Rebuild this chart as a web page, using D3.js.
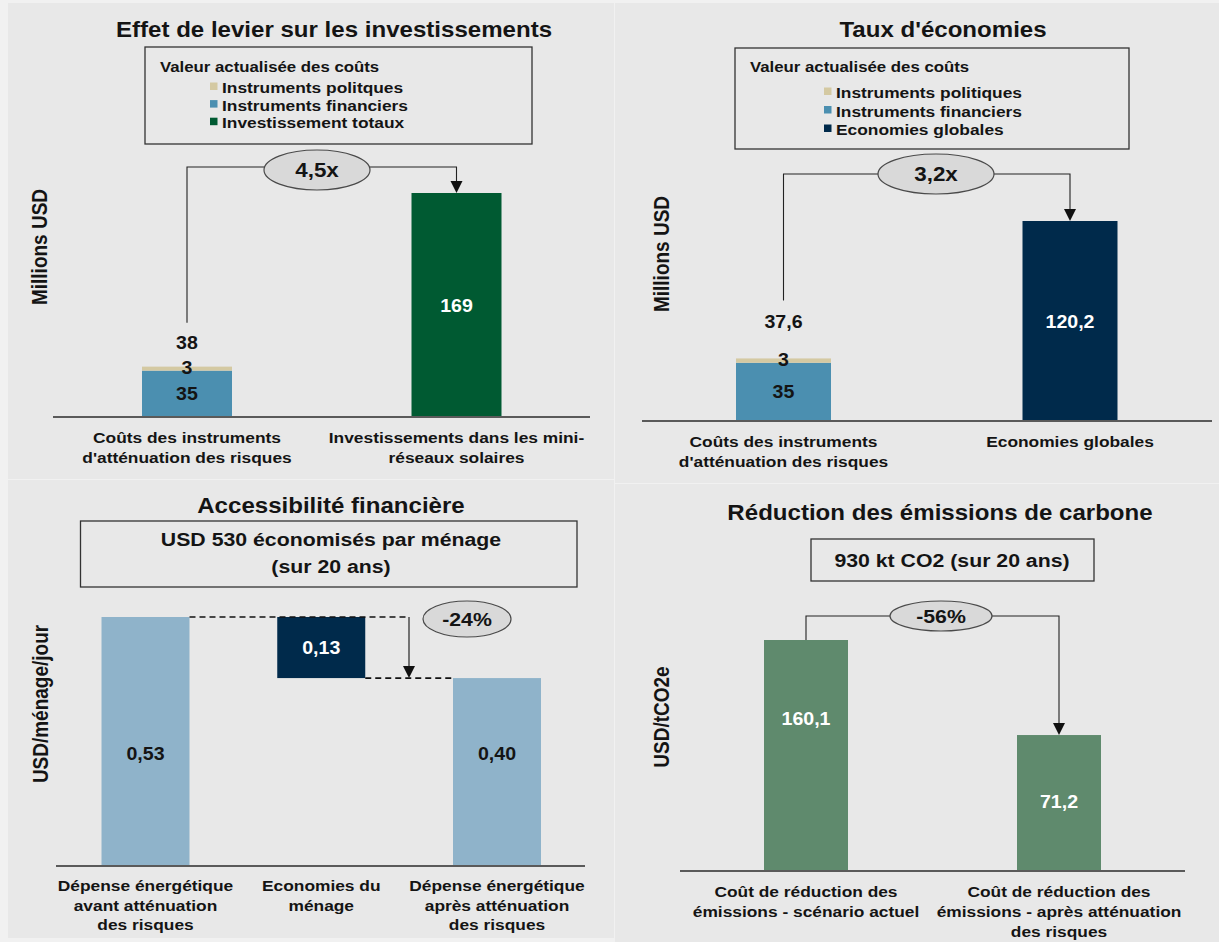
<!DOCTYPE html>
<html><head><meta charset="utf-8">
<script src="https://cdn.jsdelivr.net/npm/d3@7"></script>
<style>html,body{margin:0;padding:0;background:#f1f1f1;} svg{display:block;}</style>
</head><body><svg id="c" width="1219" height="942"></svg>
<script>
// ---------------- DATA ----------------
// Panel 1 : Effet de levier sur les investissements
const levierTitle = "Effet de levier sur les investissements";
const levierCategories = [["Coûts des instruments", "d'atténuation des risques"], ["Investissements dans les mini-", "réseaux solaires"]];
const levierFinanciers = [35, 0];
const levierPolitiques = [3, 0];
const levierInvestissement = [0, 169];
const levierLegend = ["Instruments politques", "Instruments financiers", "Investissement totaux"];
const levierMultiple = "4,5x";

// Panel 2 : Taux d'économies
const tauxTitle = "Taux d'économies";
const tauxCategories = [["Coûts des instruments", "d'atténuation des risques"], ["Economies globales"]];
const tauxFinanciers = [35, 0];
const tauxPolitiques = [2.6, 0];
const tauxEconomies = [0, 120.2];
const tauxLegend = ["Instruments politiques", "Instruments financiers", "Economies globales"];
const tauxMultiple = "3,2x";

const legendHeader = "Valeur actualisée des coûts";
const yLabelMillions = "Millions USD";

// Panel 3 : Accessibilité financière
const accesTitle = "Accessibilité financière";
const accesBox = ["USD 530 économisés par ménage", "(sur 20 ans)"];
const accesCategories = [["Dépense énergétique", "avant atténuation", "des risques"], ["Economies du", "ménage"], ["Dépense énergétique", "après atténuation", "des risques"]];
const accesValues = [0.53, 0.13, 0.40];
const accesTypes = ["total", "decrease", "total"];
const accesChange = "-24%";
const accesYLabel = "USD/ménage/jour";

// Panel 4 : Réduction des émissions de carbone
const carboneTitle = "Réduction des émissions de carbone";
const carboneBox = "930 kt CO2 (sur 20 ans)";
const carboneCategories = [["Coût de réduction des", "émissions - scénario actuel"], ["Coût de réduction des", "émissions - après atténuation", "des risques"]];
const carboneValues = [160.1, 71.2];
const carboneChange = "-56%";
const carboneYLabel = "USD/tCO2e";

// ---------------- HELPERS ----------------
const svg = d3.select('#c');
const SX = 1.12, FONT = "'Liberation Sans', Arial, Helvetica, sans-serif", INK = '#141414';
const fr = d3.formatLocale({decimal: ",", thousands: " ", grouping: [3], currency: ["", ""]});
const f1 = fr.format(".1f"), f2 = fr.format(".2f"), f0 = fr.format(".0f");
const C = {financiers: '#4b8fb0', politiques: '#d4c9a2', vert: '#005a32', navy: '#002a4b',
           bleuClair: '#8fb3ca', vertGris: '#5f8a6d', bg: '#e8e8e8'};

function T(g, s, x, y, size, o = {}) {
  return g.append('text')
    .attr('transform', `translate(${x},${y}) scale(${o.sx || SX},1)${o.rot ? ` rotate(${o.rot})` : ''}`)
    .attr('text-anchor', o.anchor || 'middle')
    .attr('font-family', FONT).attr('font-weight', 'bold').attr('font-size', size)
    .attr('fill', o.fill || INK).text(s);
}
function lines(g, arr, x, y, lh, size) { arr.forEach((s, i) => T(g, s, x, y + i * lh, size)); }
function arrowDown(g, x, yTip) {
  g.append('path').attr('d', `M${x},${yTip} l-6,-12 h12 z`).attr('fill', '#111');
}
function bubble(g, cx, cy, rx, ry, label, size) {
  g.append('ellipse').attr('cx', cx).attr('cy', cy).attr('rx', rx).attr('ry', ry)
    .attr('fill', '#d9d9d9').attr('stroke', '#4a4a4a').attr('stroke-width', 1.2);
  T(g, label, cx, cy + size * 0.36, size);
}
function baseLine(g, x1, x2, y) {
  g.append('line').attr('x1', x1).attr('x2', x2).attr('y1', y).attr('y2', y)
    .attr('stroke', '#5a5a5a').attr('stroke-width', 2);
}
function box(g, x, y, w, h) {
  g.append('rect').attr('x', x).attr('y', y).attr('width', w).attr('height', h)
    .attr('fill', 'none').attr('stroke', '#333').attr('stroke-width', 1.3);
}

// panel backgrounds
[[8, 3, 606, 476], [615, 3, 604, 480], [8, 480, 606, 458], [615, 484, 604, 458]].forEach(r =>
  svg.append('rect').attr('x', r[0]).attr('y', r[1]).attr('width', r[2]).attr('height', r[3]).attr('fill', C.bg));

// ---------------- STACKED PANELS (1 & 2) ----------------
function stackedPanel(cfg) {
  const g = svg.append('g');
  const rows = cfg.fin.map((d, i) => ({financiers: d, politiques: cfg.pol[i], total: cfg.tot[i]}));
  const keys = ['financiers', 'politiques', 'total'];
  const series = d3.stack().keys(keys)(rows);
  const sums = rows.map(r => r.financiers + r.politiques + r.total);
  const x = d3.scalePoint().domain(d3.range(rows.length)).range(cfg.xr);
  const y = d3.scaleLinear().domain([0, d3.max(sums)]).range(cfg.yr);
  const color = {financiers: C.financiers, politiques: C.politiques, total: cfg.totColor};

  T(g, cfg.title, cfg.titleX, 37, 21.5);
  box(g, cfg.box[0], cfg.box[1], cfg.box[2], cfg.box[3]);
  T(g, legendHeader, cfg.hdrX, 72, 15, {anchor: 'start'});
  const legKeys = ['politiques', 'financiers', 'total'];
  cfg.legend.forEach((s, i) => {
    const by = cfg.legY[0] + i * cfg.legY[1];
    g.append('rect').attr('x', cfg.legX).attr('y', by - 10.5).attr('width', 7.5).attr('height', 7.5).attr('fill', color[legKeys[i]]);
    T(g, s, cfg.legX + 12, by, 15.5, {anchor: 'start'});
  });

  series.forEach(s => s.forEach((d, i) => {
    if (d[1] - d[0] <= 0) return;
    g.append('rect').attr('x', x(i) - cfg.bw / 2).attr('width', cfg.bw)
      .attr('y', y(d[1])).attr('height', y(d[0]) - y(d[1])).attr('fill', color[s.key]);
  }));
  baseLine(g, cfg.axis[0], cfg.axis[1], y(0));

  // labels bar 1
  const x0 = x(0), tot0 = sums[0];
  T(g, cfg.totFmt(tot0), x0, y(tot0) - cfg.totDy, 17.5);
  T(g, f0(rows[0].politiques), x0, y(tot0) + 7.5, 17.5);
  T(g, f0(rows[0].financiers), x0, (y(0) + y(rows[0].financiers)) / 2 + 6.5, 17.5);
  // label bar 2
  const x1 = x(1);
  T(g, cfg.tot2Fmt(sums[1]), x1, (y(0) + y(sums[1])) / 2 + 7, 17.5, {fill: '#fff'});

  // connector
  const top1 = y(tot0) - cfg.lineGap, top2 = y(sums[1]);
  g.append('path').attr('d', `M${x0},${top1} V${cfg.brY} H${x1} V${top2 - 11}`)
    .attr('fill', 'none').attr('stroke', '#222').attr('stroke-width', 1.1);
  arrowDown(g, x1, top2);
  bubble(g, cfg.bub[0], cfg.bub[1], cfg.bub[2], cfg.bub[3], cfg.mult, 20);

  T(g, yLabelMillions, cfg.ylab[0], cfg.ylab[1], 19, {rot: -90});
  cfg.cats.forEach((c, i) => lines(g, c, x(i), cfg.catY, 20, 15.5));
}

stackedPanel({
  title: levierTitle, titleX: 334, box: [145, 47, 387, 97], hdrX: 160, legX: 210, legY: [93, 17.6],
  legend: levierLegend, fin: levierFinanciers, pol: levierPolitiques, tot: levierInvestissement,
  totColor: C.vert, xr: [187, 456.5], yr: [417, 193], bw: 90, axis: [53, 590],
  totFmt: f0, tot2Fmt: f0, totDy: 18, lineGap: 44, brY: 167, bub: [317, 170, 53, 20], mult: levierMultiple,
  ylab: [47, 247], cats: levierCategories, catY: 443
});
stackedPanel({
  title: tauxTitle, titleX: 943, box: [735, 48, 394, 101], hdrX: 750, legX: 824, legY: [98, 18.5],
  legend: tauxLegend, fin: tauxFinanciers, pol: tauxPolitiques, tot: tauxEconomies,
  totColor: C.navy, xr: [783.5, 1070], yr: [421, 221], bw: 95, axis: [642, 1212],
  totFmt: f1, tot2Fmt: f1, totDy: 30, lineGap: 58, brY: 174, bub: [936, 174, 58, 20], mult: tauxMultiple,
  ylab: [669, 254], cats: tauxCategories, catY: 447
});

// ---------------- PANEL 3 : waterfall ----------------
(function () {
  const g = svg.append('g');
  T(g, accesTitle, 331, 513, 21.5);
  box(g, 80.5, 521, 496.5, 66);
  T(g, accesBox[0], 331, 546, 19);
  T(g, accesBox[1], 331, 573, 19);

  const x = d3.scalePoint().domain(d3.range(accesValues.length)).range([145.5, 497]);
  const y = d3.scaleLinear().domain([0, d3.max(accesValues)]).range([866, 617]);
  const bw = 88;
  let run = 0;
  const bars = accesValues.map((v, i) => {
    let lo, hi;
    if (accesTypes[i] === 'total') { lo = 0; hi = v; run = v; }
    else { hi = run; lo = run - v; run = lo; }
    return {i, v, lo, hi, type: accesTypes[i]};
  });
  bars.forEach(b => {
    g.append('rect').attr('x', x(b.i) - bw / 2).attr('width', bw).attr('y', y(b.hi)).attr('height', y(b.lo) - y(b.hi))
      .attr('fill', b.type === 'total' ? C.bleuClair : C.navy);
  });
  baseLine(g, 56, 585, y(0));

  const arrX = 409;
  const dash = (x1, x2, yy) => g.append('line').attr('x1', x1).attr('x2', x2).attr('y1', yy).attr('y2', yy)
    .attr('stroke', '#111').attr('stroke-width', 1.6).attr('stroke-dasharray', '6,4');
  dash(x(0) + bw / 2, arrX, y(bars[1].hi));
  dash(x(1) + bw / 2, x(2) - bw / 2, y(bars[1].lo));
  g.append('line').attr('x1', arrX).attr('x2', arrX).attr('y1', y(bars[1].hi)).attr('y2', y(bars[1].lo) - 11)
    .attr('stroke', '#111').attr('stroke-width', 1.1);
  arrowDown(g, arrX, y(bars[1].lo));
  bubble(g, 467, 619, 44, 18, accesChange, 19);

  bars.forEach(b => {
    if (b.type === 'total') T(g, f2(b.v), x(b.i), y(0) - 106, 17.5);
    else T(g, f2(b.v), x(b.i), (y(b.lo) + y(b.hi)) / 2 + 6, 17.5, {fill: '#fff'});
  });
  T(g, accesYLabel, 48, 704, 19, {rot: -90});
  accesCategories.forEach((c, i) => lines(g, c, x(i), 891, 19.7, 15.5));
})();

// ---------------- PANEL 4 ----------------
(function () {
  const g = svg.append('g');
  T(g, carboneTitle, 940, 520, 21.5);
  box(g, 811, 539, 283, 42);
  T(g, carboneBox, 952, 567, 19);

  const x = d3.scalePoint().domain(d3.range(carboneValues.length)).range([806, 1059]);
  const y = d3.scaleLinear().domain([-56, d3.max(carboneValues)]).range([871, 640]);
  const bw = 84, base = y(-56);
  carboneValues.forEach((v, i) => {
    g.append('rect').attr('x', x(i) - bw / 2).attr('width', bw).attr('y', y(v)).attr('height', base - y(v)).attr('fill', C.vertGris);
  });
  baseLine(g, 680, 1185, base);
  const labelDy = [85, 73];
  carboneValues.forEach((v, i) => T(g, f1(v), x(i), y(v) + labelDy[i], 17.5, {fill: '#fff'}));

  const brY = 616;
  g.append('path').attr('d', `M${x(0)},${y(carboneValues[0])} V${brY} H${x(1)} V${y(carboneValues[1]) - 11}`)
    .attr('fill', 'none').attr('stroke', '#222').attr('stroke-width', 1.1);
  arrowDown(g, x(1), y(carboneValues[1]));
  bubble(g, 941, 616, 51, 15, carboneChange, 19);

  T(g, carboneYLabel, 669, 717, 19, {rot: -90});
  carboneCategories.forEach((c, i) => lines(g, c, x(i), 897, 20, 15.5));
})();
</script></body></html>
